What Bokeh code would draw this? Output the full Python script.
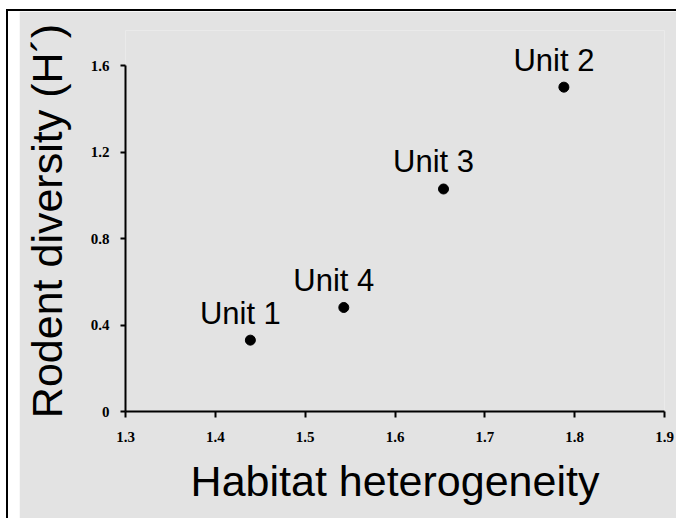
from bokeh.plotting import figure
from bokeh.models import Range1d, FixedTicker, Spacer, ColumnDataSource
from bokeh.layouts import row
from bokeh.core.properties import value
from bokeh.embed import file_html
from bokeh.resources import INLINE

# data
units = ["Unit 1", "Unit 4", "Unit 3", "Unit 2"]
heterogeneity = [1.439, 1.543, 1.654, 1.788]
diversity = [0.330, 0.481, 1.029, 1.500]

x_ticks = [1.3, 1.4, 1.5, 1.6, 1.7, 1.8, 1.9]
x_tick_labels = ["1.3", "1.4", "1.5", "1.6", "1.7", "1.8", "1.9"]
y_ticks = [0, 0.4, 0.8, 1.2, 1.6]
y_tick_labels = ["0", "0.4", "0.8", "1.2", "1.6"]

BG = "#e3e3e3"

p = figure(width=657, height=507, output_backend="svg", toolbar_location=None,
           x_range=Range1d(1.3, 1.9), y_range=Range1d(0, 1.762),
           min_border_left=102, min_border_right=12, min_border_top=19,
           min_border_bottom=107)
p.background_fill_color = BG
p.border_fill_color = BG
p.outline_line_color = None
p.grid.visible = False

src = ColumnDataSource(dict(x=heterogeneity, y=diversity, label=units))
p.scatter("x", "y", source=src, size=10, color="black")
p.text("x", "y", text="label", source=src, x_offset=-10, y_offset=-27,
       text_align="center", text_baseline="middle",
       text_font=value("Liberation Sans"), text_font_size="31px", text_color="black")

p.xaxis.ticker = FixedTicker(ticks=x_ticks)
p.yaxis.ticker = FixedTicker(ticks=y_ticks)
p.xaxis.major_label_overrides = dict(zip(x_ticks, x_tick_labels))
p.yaxis.major_label_overrides = dict(zip(y_ticks, y_tick_labels))
p.yaxis.bounds = (y_ticks[0], y_ticks[-1])

p.xaxis.axis_label = "Habitat heterogeneity"
p.yaxis.axis_label = "Rodent diversity (H´)"

for ax in (p.xaxis[0], p.yaxis[0]):
    ax.axis_line_color = "black"
    ax.axis_line_width = 2
    ax.major_tick_line_color = "black"
    ax.major_tick_line_width = 2
    ax.major_tick_in = 0
    ax.minor_tick_line_color = None
    ax.major_label_text_font = "Liberation Serif"
    ax.major_label_text_font_style = "bold"
    ax.major_label_text_font_size = "15px"
    ax.major_label_text_color = "black"
    ax.axis_label_text_font = "Liberation Sans"
    ax.axis_label_text_font_style = "normal"
    ax.axis_label_text_font_size = "43px"
    ax.axis_label_text_color = "black"

p.xaxis.major_tick_out = 6
p.yaxis.major_tick_out = 5
p.xaxis.major_label_standoff = 14
p.yaxis.major_label_standoff = 11
p.xaxis.axis_label_standoff = 12
p.yaxis.axis_label_standoff = 17

lay = row(Spacer(width=11, height=507), p, margin=(9, 0, 0, 6),
          styles={"border-left": "2px solid black", "border-top": "2px solid black"})

open("out.html", "w").write(file_html(lay, INLINE))
